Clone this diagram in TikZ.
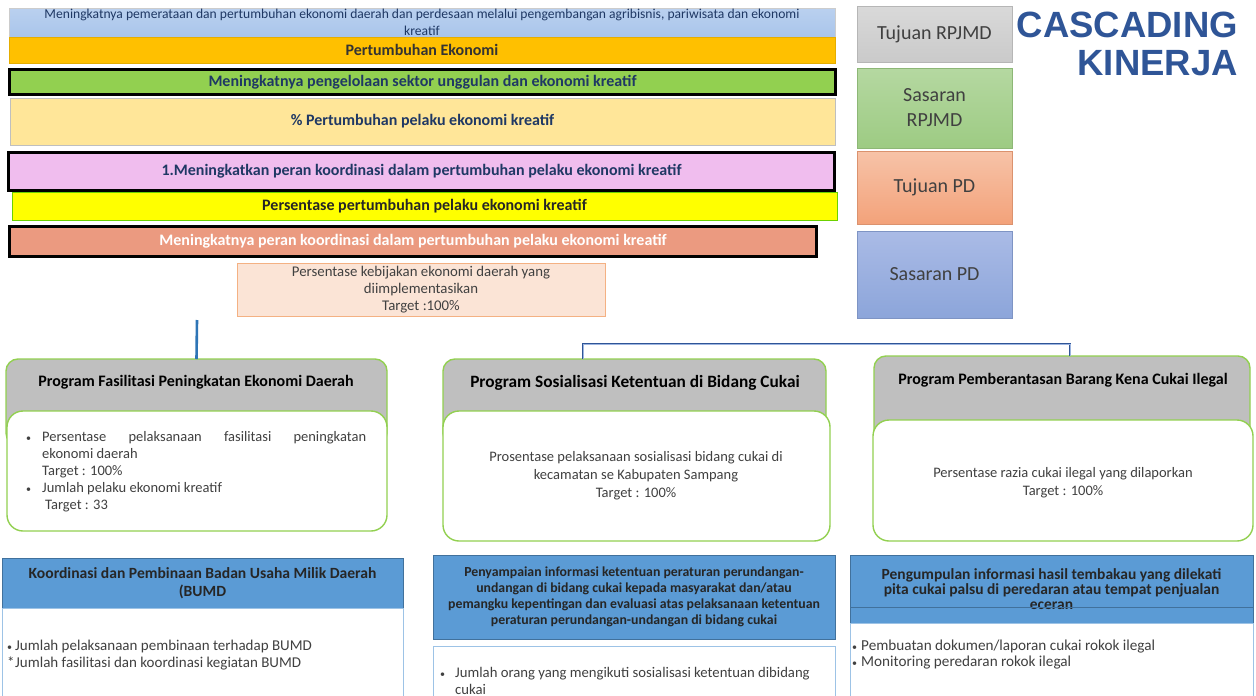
\documentclass[tikz,border=0pt]{standalone}
\usepackage{fontspec}
\setmainfont{Carlito}
\newfontfamily\headfont{Liberation Sans}
\usetikzlibrary{calc}

\definecolor{topblue}{HTML}{A9C5EB}
\definecolor{orangebar}{HTML}{FFC000}
\definecolor{greenbar}{HTML}{92D050}
\definecolor{creambar}{HTML}{FFE699}
\definecolor{pinkbar}{HTML}{F0BDEE}
\definecolor{yellowbar}{HTML}{FFFF00}
\definecolor{salmonbar}{HTML}{EB9A80}
\definecolor{peach}{HTML}{FBE4D6}
\definecolor{peachline}{HTML}{F4B183}
\definecolor{navytext}{HTML}{1F3864}
\definecolor{bodytext}{HTML}{404040}
\definecolor{titleblue}{HTML}{2F5597}
\definecolor{proggrey}{HTML}{BFBFBF}
\definecolor{proggreen}{HTML}{92D050}
\definecolor{headblue}{HTML}{5B9BD5}
\definecolor{headline}{HTML}{41719C}
\definecolor{bodyline}{HTML}{9DC3E6}
\definecolor{linkblue}{HTML}{2E75B6}
\definecolor{linkdark}{HTML}{2F5597}
\definecolor{linklight}{HTML}{9DB5E0}
\definecolor{lgreytop}{HTML}{D9D9D9}
\definecolor{lgreybot}{HTML}{CACACA}
\definecolor{lgreentop}{HTML}{B5D8A1}
\definecolor{lgreenbot}{HTML}{9DCB83}
\definecolor{lsalmtop}{HTML}{F7C3A8}
\definecolor{lsalmbot}{HTML}{F3A27A}
\definecolor{lbluetop}{HTML}{AABBE6}
\definecolor{lbluebot}{HTML}{8CA5DA}

\newcommand{\smallbullet}{{\fontsize{10}{10}\selectfont •}}

\tikzset{
  box/.style={anchor=north west, inner sep=0pt, outer sep=0pt, align=center},
  thinbar/.style={box, draw=black!30, line width=0.6pt,
    font=\bfseries\fontsize{16}{18}\selectfont},
  thickbar/.style={box, draw=black, line width=2.6pt,
    font=\bfseries\fontsize{16}{18}\selectfont},
  legend/.style={box, draw=#1, line width=0.6pt,
    text=bodytext, font=\fontsize{20}{25}\selectfont},
  proghead/.style={box, rounded corners=12pt, fill=proggrey, draw=proggreen, line width=1.4pt},
  progbody/.style={box, rounded corners=16pt, fill=white, draw=proggreen, line width=1.4pt},
  progtitle/.style={inner sep=0pt, text=black, font=\bfseries\fontsize{16}{18}\selectfont},
  bodytxt/.style={inner sep=0pt, text=bodytext, align=center, font=\fontsize{14.5}{18}\selectfont},
  subhead/.style={box, fill=headblue, draw=headline, line width=0.8pt, text=black!85},
  subbody/.style={box, fill=white, draw=bodyline, line width=0.9pt},
  bullets/.style={inner sep=0pt, anchor=north west, align=left, text=bodytext},
  link/.style={draw=linkblue, line width=2.6pt},
  linkdouble/.style={draw=linkdark, double=linklight, double distance=0.9pt, line width=0.9pt}
}

\begin{document}
\begin{tikzpicture}[x=1pt, y=-1pt]
\useasboundingbox (0,0) rectangle (1256,696);
\clip (0,0) rectangle (1256,696);
\fill[white] (0,0) rectangle (1256,696);

% ---- cascade of targets ----
\node[box, top color=topblue!80!white, bottom color=topblue, draw=black!20, line width=0.5pt,
      minimum width=826pt, minimum height=29pt, text=navytext,
      font=\fontsize{13.6}{17}\selectfont] (tr) at (9,8)
  {Meningkatnya pemerataan dan pertumbuhan ekonomi daerah dan perdesaan melalui pengembangan agribisnis, pariwisata dan ekonomi\\kreatif};
\node[thinbar, fill=orangebar, draw=orangebar!90!black, minimum width=826pt, minimum height=26pt,
      text=black!80] (pe) at (9,37) {Pertumbuhan Ekonomi};
\node[thickbar, fill=greenbar, minimum width=826pt, minimum height=25pt, text=navytext]
  (sr) at (9.5,69.5) {Meningkatnya pengelolaan sektor unggulan dan ekonomi kreatif};
\node[thinbar, fill=creambar, draw=black!25, minimum width=825pt, minimum height=47pt, text=navytext]
  (ps) at (10,98) {\% Pertumbuhan pelaku ekonomi kreatif};
\node[thinbar, fill=yellowbar, draw=black!30!yellowbar!60!green, minimum width=825pt, minimum height=28pt,
      text=black!85] (py) at (12,192) {Persentase pertumbuhan pelaku ekonomi kreatif};
\node[thickbar, fill=pinkbar, minimum width=826pt, minimum height=38pt, text=navytext]
  (tp) at (8.5,152.5) {1.Meningkatkan peran koordinasi dalam pertumbuhan pelaku ekonomi kreatif};
\node[thickbar, fill=salmonbar, minimum width=807pt, minimum height=30pt, text=white]
  (sp) at (9.5,226.5) {Meningkatnya peran koordinasi dalam pertumbuhan pelaku ekonomi kreatif};
\node[box, fill=peach, draw=peachline, line width=0.8pt, minimum width=368pt, minimum height=53pt,
      text=bodytext, font=\fontsize{14.8}{17}\selectfont] (ik) at (237,263)
  {Persentase kebijakan ekonomi daerah yang\\diimplementasikan\\Target :100\%};

% ---- legend ----
\node[legend=lgreybot!90!black, top color=lgreytop, bottom color=lgreybot, minimum width=155pt, minimum height=56pt]
  (l1) at (857,6) {Tujuan RPJMD};
\node[legend=lgreenbot!90!black, top color=lgreentop, bottom color=lgreenbot,
      minimum width=155pt, minimum height=80pt] (l2) at (857,68) {Sasaran\\RPJMD};
\node[legend=lsalmbot!90!black, top color=lsalmtop, bottom color=lsalmbot,
      minimum width=155pt, minimum height=73pt] (l3) at (857,151) {Tujuan PD};
\node[legend=lbluebot!90!black, top color=lbluetop, bottom color=lbluebot,
      minimum width=155pt, minimum height=87pt] (l4) at (857,231) {Sasaran PD};

\node[anchor=base east, inner sep=0pt, text=titleblue, font=\headfont\bfseries\fontsize{36.5}{40}\selectfont]
  (c1) at (1238,37) {CASCADING};
\node[anchor=base east, inner sep=0pt, text=titleblue, font=\headfont\bfseries\fontsize{36.5}{40}\selectfont]
  (c2) at (1238,75) {KINERJA};

% ---- programs ----
\node[proghead, minimum width=381pt, minimum height=86pt] (g1) at (6,359) {};
\node[progbody, minimum width=380pt, minimum height=120pt] (b1) at (7,411) {};
\node[progtitle] (t1) at (196,382) {Program Fasilitasi Peningkatan Ekonomi Daerah};

\node[proghead, minimum width=383pt, minimum height=86pt] (g2) at (443,359) {};
\node[progbody, minimum width=387pt, minimum height=130pt] (b2) at (443,411) {};
\node[progtitle, font=\bfseries\fontsize{17.3}{19}\selectfont] (t2) at (635,383) {Program Sosialisasi Ketentuan di Bidang Cukai};

\node[proghead, minimum width=376pt, minimum height=86pt] (g3) at (874,356) {};
\node[progbody, minimum width=380pt, minimum height=121pt] (b3) at (873,420) {};
\node[progtitle] (t3) at (1063,380) {Program Pemberantasan Barang Kena Cukai Ilegal};

\node[bullets, font=\fontsize{14.5}{17}\selectfont] (x1) at (26,431)
  {\makebox[16pt][l]{\smallbullet}\parbox[t]{324pt}{\fontsize{14.5}{17}\selectfont
     Persentase pelaksanaan fasilitasi peningkatan\linebreak ekonomi daerah\\Target : 100\%}\\[4pt]
   \makebox[16pt][l]{\smallbullet}Jumlah pelaku ekonomi kreatif\\
   \hspace*{19pt}Target : 33};
\node[bodytxt] (x2) at (636,476)
  {Prosentase pelaksanaan sosialisasi bidang cukai di\\kecamatan se Kabupaten Sampang\\Target : 100\%};
\node[bodytxt] (x3) at (1063,483)
  {Persentase razia cukai ilegal yang dilaporkan\\Target : 100\%};

% ---- connectors ----
\coordinate (up1) at (197,320);
\draw[link] (up1) -- (g1.north);
\coordinate (rise) at (583,344);
\coordinate (bend) at (1070,344);
\draw[linkdouble] (rise |- g2.north) -- (rise) -- (bend) -- (bend |- g3.north);

% ---- activities ----
\node[subhead, minimum width=401pt, minimum height=50pt, font=\bfseries\fontsize{15.6}{18}\selectfont]
  (h1) at (2,558) {Koordinasi dan Pembinaan Badan Usaha Milik Daerah\\(BUMD};
\node[subbody, minimum width=401pt, minimum height=95pt] (s1) at (2,608) {};
\node[bullets, font=\fontsize{15}{17}\selectfont]
  (y1) at (7,640) {\makebox[8pt][l]{\smallbullet}Jumlah pelaksanaan pembinaan terhadap BUMD\\\makebox[8pt][l]{*}Jumlah fasilitasi dan koordinasi kegiatan BUMD};

\node[subhead, minimum width=402pt, minimum height=84pt, font=\bfseries\fontsize{13.8}{16}\selectfont]
  (h2) at (433,555) {Penyampaian informasi ketentuan peraturan perundangan-\\undangan di bidang cukai kepada masyarakat dan/atau\\pemangku kepentingan dan evaluasi atas pelaksanaan ketentuan\\peraturan perundangan-undangan di bidang cukai};
\node[subbody, minimum width=402pt, minimum height=60pt] (s2) at (433,646) {};
\node[bullets, font=\fontsize{14.7}{17}\selectfont]
  (y2) at (440,667) {\makebox[15pt][l]{\smallbullet}Jumlah orang yang mengikuti sosialisasi ketentuan dibidang\\\hspace*{15pt}cukai};

\node[subhead, minimum width=403pt, minimum height=68pt, font=\bfseries\fontsize{15.5}{15}\selectfont,
      text depth=0pt] (h3) at (850,555) {\rule{0pt}{9pt}Pengumpulan informasi hasil tembakau yang dilekati\\pita cukai palsu di peredaran atau tempat penjualan\\eceran\rule[-15pt]{0pt}{15pt}};
\draw[headline, line width=0.9pt] ($(h3.north west)+(0,52)$) -- ($(h3.north east)+(0,52)$);
\node[subbody, minimum width=403pt, minimum height=80pt] (s3) at (850,623) {};
\node[bullets, font=\fontsize{15.2}{16}\selectfont]
  (y3) at (852,640) {\makebox[9pt][l]{\smallbullet}Pembuatan dokumen/laporan cukai rokok ilegal\\\makebox[9pt][l]{\smallbullet}Monitoring peredaran rokok ilegal};
\end{tikzpicture}
\end{document}
